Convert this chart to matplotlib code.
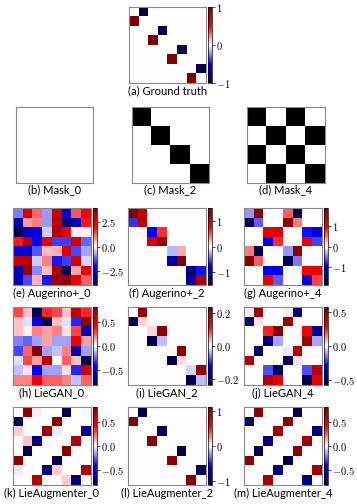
import matplotlib
matplotlib.use("Agg")
import matplotlib.pyplot as plt
import numpy as np

plt.rcParams['mathtext.fontset'] = 'cm'

W, H = 357, 504

# ---- data (8x8 generator matrices) ----
ground_truth = [
    [0, -1, 0, 0, 0, 0, 0, 0],
    [1, 0, 0, 0, 0, 0, 0, 0],
    [0, 0, 0, -1, 0, 0, 0, 0],
    [0, 0, 1, 0, 0, 0, 0, 0],
    [0, 0, 0, 0, 0, -1, 0, 0],
    [0, 0, 0, 0, 1, 0, 0, 0],
    [0, 0, 0, 0, 0, 0, 0, -1],
    [0, 0, 0, 0, 0, 0, 1, 0],
]

mask_0 = [[0] * 8 for _ in range(8)]
mask_2 = [
    [1, 1, 0, 0, 0, 0, 0, 0],
    [1, 1, 0, 0, 0, 0, 0, 0],
    [0, 0, 1, 1, 0, 0, 0, 0],
    [0, 0, 1, 1, 0, 0, 0, 0],
    [0, 0, 0, 0, 1, 1, 0, 0],
    [0, 0, 0, 0, 1, 1, 0, 0],
    [0, 0, 0, 0, 0, 0, 1, 1],
    [0, 0, 0, 0, 0, 0, 1, 1],
]
mask_4 = [
    [1, 1, 0, 0, 1, 1, 0, 0],
    [1, 1, 0, 0, 1, 1, 0, 0],
    [0, 0, 1, 1, 0, 0, 1, 1],
    [0, 0, 1, 1, 0, 0, 1, 1],
    [1, 1, 0, 0, 1, 1, 0, 0],
    [1, 1, 0, 0, 1, 1, 0, 0],
    [0, 0, 1, 1, 0, 0, 1, 1],
    [0, 0, 1, 1, 0, 0, 1, 1],
]

augerino_0 = [
    [-1.0, 2.5, 1.2, -0.8, 2.8, -2.5, 1.3, 2.0],
    [-3.0, 0.8, 1.0, -0.8, 3.0, -3.5, -2.5, 1.8],
    [-3.94, -2.5, -2.2, -0.4, 3.2, 2.3, 0.1, 0.1],
    [1.8, 3.0, -2.0, 2.3, -1.5, -1.5, 2.6, -1.2],
    [-2.3, -2.5, -1.3, 0.5, 0.6, 2.5, -1.4, -0.7],
    [2.8, 3.0, -0.4, 1.0, -1.8, -1.5, 2.6, -0.3],
    [-2.8, 3.5, -0.9, 0.5, 3.2, -3.9, 0.7, 2.3],
    [-2.8, -1.4, 0.6, -1.8, 3.5, 3.6, 2.2, 1.2],
]
augerino_2 = [
    [1.45, 1.1, 0, 0, 0, 0, 0, 0],
    [-0.6, 1.1, 0, 0, 0, 0, 0, 0],
    [0, 0, -0.75, 0.6, 0, 0, 0, 0],
    [0, 0, 0.95, 1.35, 0, 0, 0, 0],
    [0, 0, 0, 0, -0.2, 0.25, 0, 0],
    [0, 0, 0, 0, -1.1, 1.5, 0, 0],
    [0, 0, 0, 0, 0, 0, -1.25, -0.7],
    [0, 0, 0, 0, 0, 0, -1.2, 1.2],
]
augerino_4 = [
    [-0.4, 1.8, 0, 0, 0.6, -1.9, 0, 0],
    [-1.9, -0.6, 0, 0, 1.8, 0.5, 0, 0],
    [0, 0, 1.1, 1.2, 0, 0, -0.9, -1.1],
    [0, 0, -1.0, 0.8, 0, 0, 1.1, -0.7],
    [0.5, -1.9, 0, 0, -0.4, 1.8, 0, 0],
    [1.8, 0.6, 0, 0, -1.9, -0.5, 0, 0],
    [0, 0, -1.0, -1.1, 0, 0, 1.0, 1.1],
    [0, 0, 1.1, -0.6, 0, 0, -1.1, 0.7],
]

liegan_0 = [
    [0.3, 0.1, -0.8, 0.35, 0.3, 0.1, 0.6, 0.35],
    [0.1, -0.05, -0.45, -0.8, 0.1, -0.05, -0.35, 0.75],
    [0.1, 0.02, 0.2, 0.15, 0.2, 0.05, 0.3, -0.6],
    [-0.2, -0.25, -0.15, 0.15, -0.15, -0.15, 0.45, 0.15],
    [-0.3, 0.25, 0.8, -0.15, -0.1, 0.2, -0.6, -0.15],
    [-0.05, 0.3, 0.15, 0.6, 0.0, 0.25, 0.1, -0.82],
    [-0.1, 0.05, -0.4, -0.15, -0.15, 0.05, -0.35, 0.55],
    [0.2, 0.2, 0.45, 0.25, 0.25, 0.2, -0.1, 0.25],
]
liegan_2 = [
    [0.0, 0.22, 0, 0, 0, 0, 0, 0],
    [-0.23, 0.02, 0, 0, 0, 0, 0, 0],
    [0, 0, 0.02, 0.22, 0, 0, 0, 0],
    [0, 0, -0.23, -0.03, 0, 0, 0, 0],
    [0, 0, 0, 0, 0.005, 0.22, 0, 0],
    [0, 0, 0, 0, -0.23, 0.02, 0, 0],
    [0, 0, 0, 0, 0, 0, -0.02, 0.21],
    [0, 0, 0, 0, 0, 0, -0.235, -0.03],
]
liegan_4 = [
    [-0.02, 0.5, 0, 0, 0.02, -0.5, 0, 0],
    [-0.5, 0.03, 0, 0, 0.5, 0.0, 0, 0],
    [0, 0, 0.25, 0.57, 0, 0, 0.3, -0.45],
    [0, 0, -0.5, -0.1, 0, 0, 0.5, -0.1],
    [0.0, -0.55, 0, 0, -0.02, 0.45, 0, 0],
    [0.45, 0.0, 0, 0, -0.55, 0.03, 0, 0],
    [0, 0, -0.2, -0.55, 0, 0, -0.2, 0.45],
    [0, 0, 0.45, 0.35, 0, 0, -0.58, 0.35],
]

lieaug_0 = [
    [0, 0.78, -0.02, 0, 0, -0.8, 0, 0],
    [-0.8, 0, 0, 0, 0.78, 0, 0, 0],
    [0.08, 0, 0, 0.7, -0.03, 0, 0, -0.65],
    [0, 0.1, -0.7, 0, 0, 0, 0.65, 0],
    [0, -0.8, 0, 0, 0, 0.78, 0, 0],
    [0.78, 0, 0, 0, -0.82, 0, 0, 0],
    [-0.03, 0, 0, -0.7, 0.08, 0, 0, 0.65],
    [0, 0, 0.65, 0, 0, 0.08, -0.7, 0],
]
lieaug_2 = [
    [0, -1.1, 0, 0, 0, 0, 0, 0],
    [1.05, 0, 0, 0, 0, 0, 0, 0],
    [0, 0, 0, -1.08, 0, 0, 0, 0],
    [0, 0, 1.05, 0, 0, 0, 0, 0],
    [0, 0, 0, 0, 0, -1.08, 0, 0],
    [0, 0, 0, 0, 1.05, 0, 0, 0],
    [0, 0, 0, 0, 0, 0, 0, -1.08],
    [0, 0, 0, 0, 0, 0, 1.05, 0],
]
lieaug_4 = [
    [0, 0.78, 0, 0, 0, -0.8, 0, 0],
    [-0.8, 0, 0, 0, 0.78, 0, 0, 0],
    [0, 0, 0, 0.7, 0, 0, 0, -0.7],
    [0, 0, -0.7, 0, 0, 0, 0.7, 0],
    [0, -0.8, 0, 0, 0, 0.78, 0, 0],
    [0.78, 0, 0, 0, -0.82, 0, 0, 0],
    [0, 0, 0, -0.7, 0, 0, 0, 0.7],
    [0, 0, 0.7, 0, 0, 0, -0.7, 0],
]

# (matrix, caption, colorbar ticks, tick format)
panels = [
    (augerino_0, "(e) Augerino+_0", [-2.5, 0, 2.5], "{:.1f}"),
    (augerino_2, "(f) Augerino+_2", [-1, 0, 1], "{:.0f}"),
    (augerino_4, "(g) Augerino+_4", [-1, 0, 1], "{:.0f}"),
    (liegan_0, "(h) LieGAN_0", [-0.5, 0, 0.5], "{:.1f}"),
    (liegan_2, "(i) LieGAN_2", [-0.2, 0, 0.2], "{:.1f}"),
    (liegan_4, "(j) LieGAN_4", [-0.5, 0, 0.5], "{:.1f}"),
    (lieaug_0, "(k) LieAugmenter_0", [-0.5, 0, 0.5], "{:.1f}"),
    (lieaug_2, "(l) LieAugmenter_2", [-1, 0, 1], "{:.0f}"),
    (lieaug_4, "(m) LieAugmenter_4", [-0.5, 0, 0.5], "{:.1f}"),
]
masks = [(mask_0, "(b) Mask_0"), (mask_2, "(c) Mask_2"), (mask_4, "(d) Mask_4")]

CAP_FONT = dict(family="Lato", size=8)
SPINE = "#888888"


def px(x0, y0, x1, y1):
    return [x0 / W, 1 - y1 / H, (x1 - x0) / W, (y1 - y0) / H]


def tick_fmt(fmt):
    def f(v, pos):
        s = fmt.format(v)
        if s.startswith("-"):
            s = "-" + s[1:]
        return "$" + s + "$"
    return plt.FuncFormatter(f)


def heat(x0, y0, x1, y1, mat, caption, ticks, fmt):
    ax = fig.add_axes(px(x0, y0, x1, y1))
    m = np.array(mat, dtype=float)
    vmax = np.abs(m).max()
    im = ax.imshow(m, cmap="seismic", vmin=-vmax, vmax=vmax, aspect="auto")
    ax.set_xticks([])
    ax.set_yticks([])
    for s in ax.spines.values():
        s.set_color(SPINE)
        s.set_linewidth(0.8)
    cax = fig.add_axes(px(x1 + 1.5, y0, x1 + 6, y1))
    cb = fig.colorbar(im, cax=cax, ticks=ticks)
    cb.ax.yaxis.set_major_formatter(tick_fmt(fmt))
    cb.ax.tick_params(labelsize=7.5, length=2, width=0.5, pad=1)
    cb.outline.set_linewidth(0.5)
    fig.text((x0 + x1) / 2 / W, 1 - (y1 + 8) / H, caption,
             ha="center", va="center", **CAP_FONT)


fig = plt.figure(figsize=(W / 100, H / 100), dpi=100)

# ground truth
heat(129, 7, 206, 83, ground_truth, "(a) Ground truth", [-1, 0, 1], "{:.0f}")

# masks
mask_x = [(16, 93), (132, 209), (247, 325)]
for (x0, x1), (m, cap) in zip(mask_x, masks):
    ax = fig.add_axes(px(x0, 107, x1, 183))
    ax.imshow(np.array(m), cmap="gray_r", vmin=0, vmax=1, aspect="auto")
    ax.set_xticks([])
    ax.set_yticks([])
    for s in ax.spines.values():
        s.set_color(SPINE)
        s.set_linewidth(0.8)
    fig.text((x0 + x1) / 2 / W, 1 - 190 / H, cap, ha="center", va="center", **CAP_FONT)

# method rows
col_x = [(13, 91), (128, 206), (244, 322)]
row_y = [(208, 285), (307, 385), (407, 485)]
for i, (mat, cap, ticks, fmt) in enumerate(panels):
    x0, x1 = col_x[i % 3]
    y0, y1 = row_y[i // 3]
    heat(x0, y0, x1, y1, mat, cap, ticks, fmt)

fig.savefig("out.png", dpi=100)
